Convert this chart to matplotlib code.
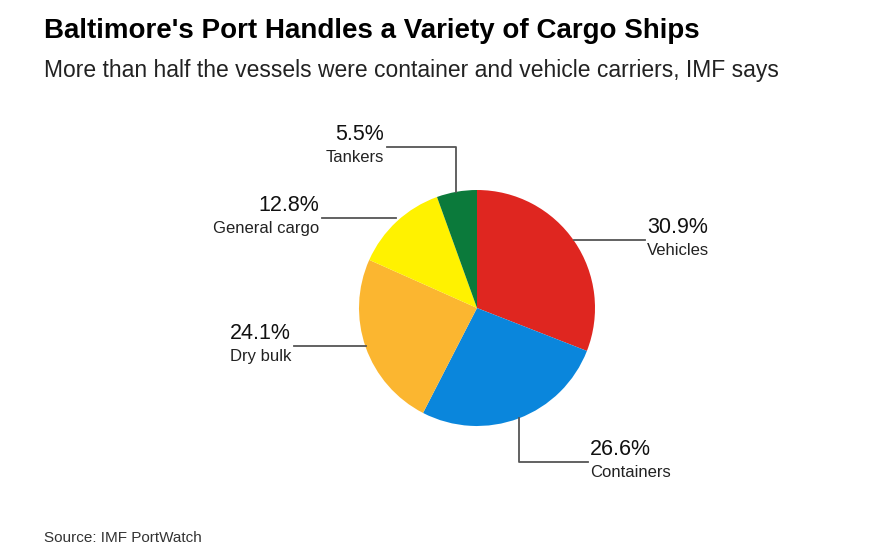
import numpy as np
import matplotlib
matplotlib.use("Agg")
import matplotlib.pyplot as plt

categories = ["Vehicles", "Containers", "Dry bulk", "General cargo", "Tankers"]
shares = [30.9, 26.6, 24.1, 12.8, 5.5]
colors = ["#df2620", "#0a86dc", "#fbb630", "#fff200", "#0b7a3b"]

W, H = 894, 560
plt.rcParams["font.family"] = "Liberation Sans"
fig = plt.figure(figsize=(W / 100, H / 100), dpi=100)
ax = fig.add_axes([0, 0, 1, 1])

cx, cy, r = 477, H - 308, 118
ax.pie(shares, colors=colors, startangle=90, counterclock=False,
       center=(cx, cy), radius=r, frame=True,
       wedgeprops=dict(linewidth=0))
ax.set_xlim(0, W)
ax.set_ylim(0, H)
ax.set_aspect("equal")
ax.axis("off")

# label layout: (kind, elbow/text x, text y) in pixels from top
layout = {
    "Vehicles": ("right", 645, 240),
    "Containers": ("down", 588, 462),
    "Dry bulk": ("left", 294, 346),
    "General cargo": ("left", 322, 218),
    "Tankers": ("up", 387, 147),
}

lc = "#555555"
start = 90.0
for cat, val in zip(categories, shares):
    mid = np.radians(start - val * 3.6 / 2)
    start -= val * 3.6
    ax_, ay_ = cx + r * np.cos(mid), cy + r * np.sin(mid)
    kind, tx, ty = layout[cat]
    ty = H - ty
    if kind in ("right", "left"):
        xs, ys = [ax_, tx], [ty, ty]
    else:
        xs, ys = [ax_, ax_, tx], [ay_, ty, ty]
    ax.plot(xs, ys, color=lc, lw=1.3)
    if kind in ("right", "down"):
        ha, x = "left", tx + 2
    else:
        ha, x = "right", tx - 3
    ax.text(x, ty + 2, f"{val}%", ha=ha, va="bottom", fontsize=15.5, color="#111111")
    ax.text(x, ty - 3, cat, ha=ha, va="top", fontsize=12, color="#222222")

fig.text(44 / W, 1 - 31 / H, "Baltimore's Port Handles a Variety of Cargo Ships",
         fontsize=20, fontweight="bold", va="center", ha="left")
fig.text(44 / W, 1 - 70 / H,
         "More than half the vessels were container and vehicle carriers, IMF says",
         fontsize=16.5, va="center", ha="left", color="#222222")
fig.text(44 / W, 1 - 538 / H, "Source: IMF PortWatch", fontsize=11,
         va="center", ha="left", color="#333333")

fig.savefig("out.png", dpi=100, facecolor="white")
